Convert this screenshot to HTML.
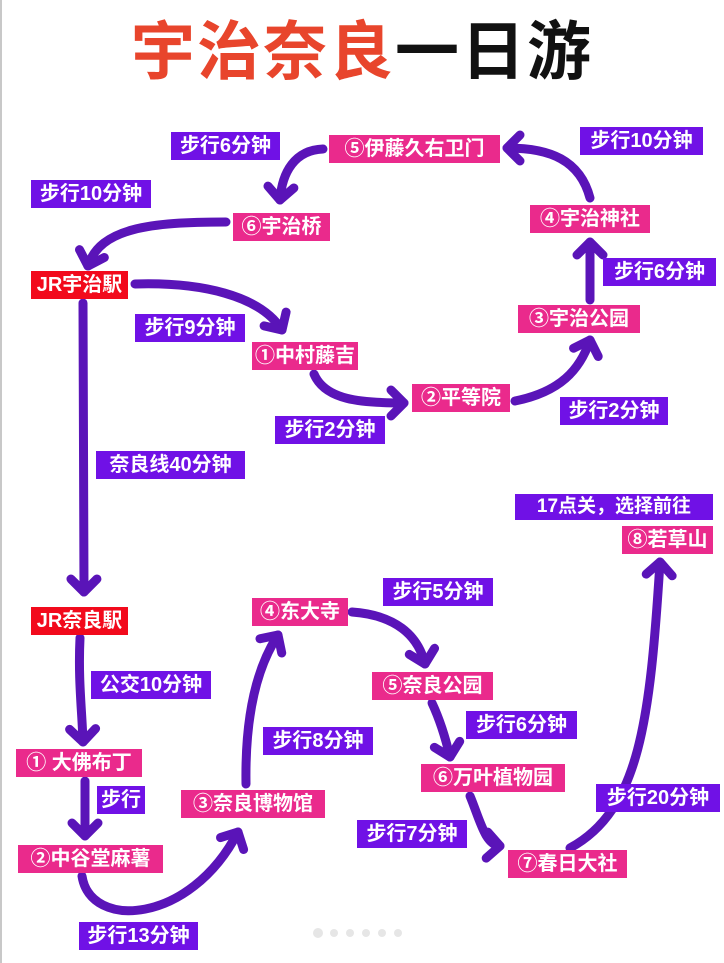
<!DOCTYPE html>
<html><head><meta charset="utf-8"><style>
body{margin:0;width:724px;height:963px;background:#fff;position:relative;overflow:hidden;font-family:"Liberation Sans","Noto Sans CJK SC",sans-serif;}
.b{position:absolute;height:28px;line-height:28px;color:#fff;font-weight:bold;font-size:20px;white-space:nowrap;text-align:center;overflow:hidden;letter-spacing:0px}
.p{background:#7011e6}
.k{background:#ea2a8c}
.r{background:#f20a1c}
#t{position:absolute;left:0;top:12px;width:724px;text-align:center;font-size:64px;font-weight:bold;line-height:80px;letter-spacing:2px}
svg{position:absolute;left:0;top:0}
</style></head><body>
<div style="position:absolute;left:0;top:0;width:2px;height:963px;background:#c8c8c8"></div>
<div id="t"><span style="color:#e8452c">宇治奈良</span><span style="color:#111">一日游</span></div>
<svg width="724" height="963">
<defs><marker id="a" markerUnits="userSpaceOnUse" markerWidth="40" markerHeight="40" refX="0" refY="0" viewBox="-20 -20 40 40" orient="auto"><path d="M-13,-13 L0,0 L-13,13" fill="none" stroke="#5a14b8" stroke-width="9" stroke-linecap="round" stroke-linejoin="round"/></marker></defs>
<g fill="none" stroke="#5a14b8" stroke-width="9" stroke-linecap="round" marker-end="url(#a)">
<path d="M323,149 C295,150 282,172 280,200"/>
<path d="M226,222 C150,222 100,228 88,266"/>
<path d="M135,284 C200,282 260,295 282,330"/>
<path d="M83,303 L84,592"/>
<path d="M314,374 C325,400 360,403 404,403"/>
<path d="M515,401 C560,392 580,370 590,340"/>
<path d="M590,300 L590,242"/>
<path d="M590,198 C580,160 550,148 507,148"/>
<path d="M80,638 C78,680 82,710 83,742"/>
<path d="M85,781 L85,836"/>
<path d="M82,876 C90,930 190,925 238,832"/>
<path d="M246,784 C245,720 255,670 278,635"/>
<path d="M352,612 C395,615 418,635 425,664"/>
<path d="M432,703 C440,720 446,740 450,757"/>
<path d="M470,796 C480,820 485,845 500,846"/>
<path d="M570,848 C640,810 650,720 660,562"/>
</g>
<g fill="#e6e6e6"><circle cx="318" cy="933" r="5"/><circle cx="334" cy="933" r="4"/><circle cx="350" cy="933" r="4"/><circle cx="366" cy="933" r="4"/><circle cx="382" cy="933" r="4"/><circle cx="398" cy="933" r="4"/></g>
</svg>
<div class="b p" style="left:171px;top:132px;width:109px">步行6分钟</div>
<div class="b k" style="left:329px;top:135px;width:171px">⑤伊藤久右卫门</div>
<div class="b p" style="left:580px;top:127px;width:123px">步行10分钟</div>
<div class="b p" style="left:31px;top:180px;width:120px">步行10分钟</div>
<div class="b k" style="left:233px;top:213px;width:97px">⑥宇治桥</div>
<div class="b k" style="left:530px;top:205px;width:120px">④宇治神社</div>
<div class="b r" style="left:31px;top:271px;width:97px">JR宇治駅</div>
<div class="b p" style="left:603px;top:258px;width:113px">步行6分钟</div>
<div class="b p" style="left:135px;top:314px;width:110px">步行9分钟</div>
<div class="b k" style="left:518px;top:305px;width:122px">③宇治公园</div>
<div class="b k" style="left:252px;top:342px;width:106px">①中村藤吉</div>
<div class="b k" style="left:412px;top:384px;width:98px">②平等院</div>
<div class="b p" style="left:275px;top:416px;width:110px">步行2分钟</div>
<div class="b p" style="left:560px;top:397px;width:108px">步行2分钟</div>
<div class="b p" style="left:96px;top:451px;width:149px">奈良线40分钟</div>
<div class="b p" style="left:515px;top:494px;width:198px;height:26px;line-height:26px;font-size:19px">17点关，选择前往</div>
<div class="b k" style="left:622px;top:526px;width:91px">⑧若草山</div>
<div class="b r" style="left:31px;top:607px;width:97px">JR奈良駅</div>
<div class="b k" style="left:252px;top:598px;width:96px">④东大寺</div>
<div class="b p" style="left:383px;top:578px;width:110px">步行5分钟</div>
<div class="b p" style="left:91px;top:671px;width:120px">公交10分钟</div>
<div class="b k" style="left:372px;top:672px;width:121px">⑤奈良公园</div>
<div class="b p" style="left:466px;top:711px;width:111px">步行6分钟</div>
<div class="b p" style="left:263px;top:727px;width:110px">步行8分钟</div>
<div class="b k" style="left:16px;top:749px;width:126px">① 大佛布丁</div>
<div class="b k" style="left:421px;top:764px;width:144px">⑥万叶植物园</div>
<div class="b p" style="left:97px;top:786px;width:48px">步行</div>
<div class="b p" style="left:596px;top:784px;width:124px">步行20分钟</div>
<div class="b k" style="left:181px;top:790px;width:144px">③奈良博物馆</div>
<div class="b p" style="left:357px;top:820px;width:110px">步行7分钟</div>
<div class="b k" style="left:18px;top:845px;width:145px">②中谷堂麻薯</div>
<div class="b k" style="left:508px;top:850px;width:119px">⑦春日大社</div>
<div class="b p" style="left:79px;top:922px;width:119px">步行13分钟</div>
</body></html>
